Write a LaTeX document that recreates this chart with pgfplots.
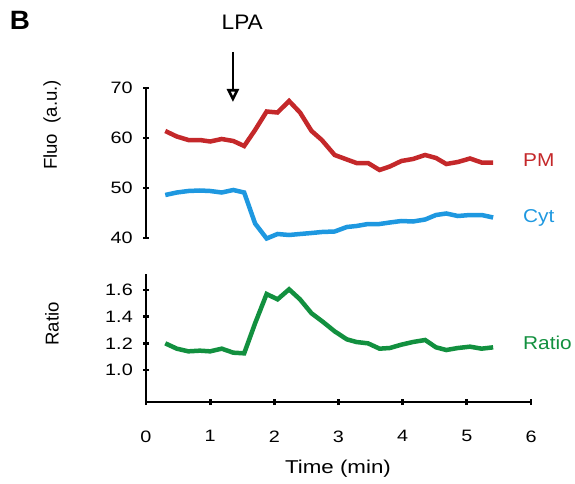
\documentclass[border=0pt]{standalone}
\usepackage{fontspec}
\setmainfont{Liberation Sans}
\usepackage{pgfplots}
\pgfplotsset{compat=1.18}
\usetikzlibrary{arrows.meta}

\definecolor{pmred}{HTML}{C4282A}
\definecolor{cytblue}{HTML}{1E98E0}
\definecolor{ratiogreen}{HTML}{12903F}

\pgfplotstableread{
t v
0.30 61.4
0.48 60.3
0.66 59.6
0.84 59.6
1.00 59.3
1.18 59.8
1.36 59.4
1.53 58.4
1.70 61.6
1.88 65.3
2.05 65.1
2.23 67.4
2.40 65.1
2.58 61.4
2.74 59.6
2.94 56.6
3.13 55.7
3.28 55.0
3.46 55.0
3.64 53.6
3.80 54.3
3.98 55.4
4.16 55.8
4.35 56.6
4.52 56.0
4.68 54.8
4.86 55.2
5.05 55.9
5.23 55.1
5.41 55.1
}\pm

\pgfplotstableread{
t v
0.30 48.6
0.48 49.1
0.66 49.4
0.84 49.5
1.00 49.4
1.18 49.1
1.36 49.6
1.53 49.1
1.70 42.9
1.88 39.9
2.05 40.8
2.23 40.6
2.40 40.8
2.58 41.0
2.74 41.2
2.94 41.3
3.13 42.2
3.28 42.4
3.46 42.8
3.64 42.8
3.80 43.1
3.98 43.4
4.16 43.3
4.35 43.7
4.52 44.6
4.68 44.9
4.86 44.4
5.05 44.6
5.23 44.6
5.41 44.1
}\cyt

\pgfplotstableread{
t v
0.30 1.20
0.48 1.16
0.66 1.14
0.84 1.145
1.00 1.14
1.18 1.16
1.36 1.13
1.53 1.125
1.70 1.35
1.88 1.57
2.05 1.53
2.23 1.605
2.40 1.53
2.58 1.425
2.76 1.36
2.94 1.29
3.13 1.23
3.28 1.21
3.46 1.20
3.64 1.16
3.80 1.165
3.98 1.19
4.16 1.21
4.35 1.225
4.52 1.17
4.68 1.15
4.86 1.165
5.05 1.175
5.23 1.16
5.41 1.17
}\ratio

\pgfplotsset{
  panel/.style={
    scale only axis, width=385pt, xmin=0, xmax=6,
    axis line style={line width=2.8pt},
    tick style={line width=2.8pt, black},
    major tick length=6pt,
    tick align=outside,
    ticklabel style={font=\fontsize{16.5}{18}\selectfont, xscale=1.2},
    /pgf/number format/assume math mode=true,
    clip=false,
  },
}
\tikzset{
  tag/.style={anchor=west, inner sep=0pt, xscale=1.12,
    font=\fontsize{18.6}{20}\selectfont},
}

\begin{document}
\begin{tikzpicture}
\path[use as bounding box] (0,0) rectangle (575pt,483pt);

% upper panel: fluorescence
\begin{axis}[panel,
  at={(146pt,245pt)}, anchor=south west, height=150pt,
  ymin=40, ymax=70, ytick={40,50,60,70},
  axis y line=left, axis x line=none,
  y axis line style={-},
  yticklabel style={xshift=-5pt},
]
\addplot[pmred, line width=4.5pt] table[x=t,y=v] {\pm};
\addplot[cytblue, line width=4.5pt] table[x=t,y=v] {\cyt};
\node[tag, text=pmred] at (axis cs:5.875,55.6) {PM};
\node[tag, text=cytblue] at (axis cs:5.875,44.0) {Cyt};
\draw[-{Triangle[open,length=13pt,width=12pt]}, line width=2.6pt]
  (axis cs:1.355,77.2) -- (axis cs:1.355,67.2);
\node[font=\fontsize{21}{24}\selectfont, xscale=1.08] at (axis cs:1.5,83.2) {LPA};
\end{axis}

% lower panel: ratio
\begin{axis}[panel,
  at={(146pt,81pt)}, anchor=south west, height=128pt,
  ymin=0.76, ymax=1.72, ytick={1.0,1.2,1.4,1.6},
  yticklabel={\pgfmathprintnumber[fixed,fixed zerofill,precision=1]{\tick}},
  xtick={0,1,2,3,4,5,6},
  axis x line=bottom, axis y line=left,
  x axis line style={-}, y axis line style={-},
  yticklabel style={xshift=-5pt},
  xticklabel style={yshift=-22pt},
]
\addplot[ratiogreen, line width=4.5pt] table[x=t,y=v] {\ratio};
\node[tag, text=ratiogreen] at (axis cs:5.875,1.20) {Ratio};
\end{axis}

\node[font=\fontsize{18.6}{20}\selectfont, xscale=1.2] at (338pt,14pt) {Time (min)};
\node[rotate=90, font=\fontsize{18.6}{20}\selectfont] at (52pt,358pt) {Fluo\ \ (a.u.)};
\node[rotate=90, font=\fontsize{18.6}{20}\selectfont] at (52pt,159pt) {Ratio};
\node[font=\bfseries\fontsize{26.5}{28}\selectfont, xscale=1.05] at (20pt,463pt) {B};
\end{tikzpicture}
\end{document}
